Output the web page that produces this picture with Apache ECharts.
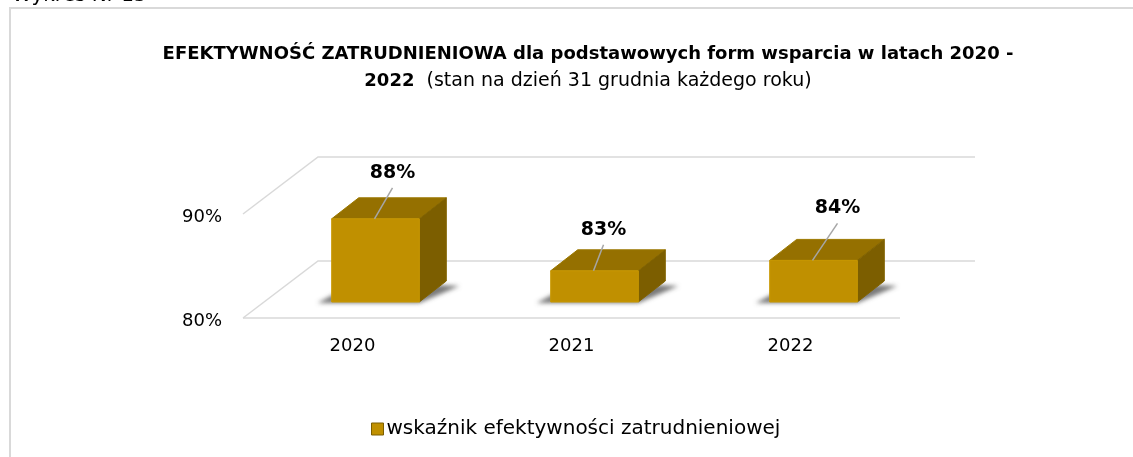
<!DOCTYPE html>
<html>
<head>
<meta charset="utf-8">
<script src="https://cdn.jsdelivr.net/npm/echarts@6/dist/echarts.min.js"></script>
<style>
html,body{margin:0;padding:0;background:#fff;}
#chart{width:1133px;height:457px;}
</style>
</head>
<body>
<div id="chart"></div>
<script>
// ---- data ----
const categories = ['2020', '2021', '2022'];
const values = [88, 83, 84];
const valueLabels = ['88%', '83%', '84%'];
const yTicks = [80, 90];
const seriesName = 'wskaźnik efektywności zatrudnieniowej';
const titleLine1 = 'EFEKTYWNOŚĆ ZATRUDNIENIOWA dla podstawowych form wsparcia w latach 2020 -';
const titleLine2Bold = '2022';
const titleLine2Rest = '  (stan na dzień 31 grudnia każdego roku)';
const caption = 'Wykres Nr 15';

// ---- layout / style constants ----
const FONT = '"DejaVu Sans", sans-serif';
const DEPTH = [75, -57];          // wall depth vector
const BAR_OFF = [23, -16];        // front face offset into depth
const BAR_DEPTH = [27, -21];      // bar depth vector
const BAR_W = 0.40;               // fraction of category band
const LABEL_OFF = [[17, -46], [9, -41], [24, -52]];
const GRID_COLOR = '#d9d9d9';

const yMin = yTicks[0], yMax = yTicks[yTicks.length - 1];

const chart = echarts.init(document.getElementById('chart'), null, {renderer: 'canvas'});

function gridRender(params, api) {
  const cs = params.coordSys;
  const v = api.value(1);
  const y = api.coord([0, v])[1];
  const left = cs.x, right = cs.x + cs.width;
  const children = [{
    type: 'polyline',
    shape: {points: [[left, y], [left + DEPTH[0], y + DEPTH[1]], [right + DEPTH[0], y + DEPTH[1]]]},
    style: {stroke: GRID_COLOR, lineWidth: 1.5, fill: null}
  }];
  if (v === yMin) {
    children.push({
      type: 'line',
      shape: {x1: left, y1: y, x2: right, y2: y},
      style: {stroke: GRID_COLOR, lineWidth: 1.5}
    });
  }
  return {type: 'group', children};
}

function barRender(params, api) {
  const i = api.value(0);
  const v = api.value(1);
  const base = api.coord([i, yMin]);
  const top = api.coord([i, v]);
  const bw = api.size([1, 0])[0] * BAR_W;
  const x0 = base[0] + BAR_OFF[0] - bw / 2, x1 = x0 + bw;
  const yb = base[1] + BAR_OFF[1], yt = top[1] + BAR_OFF[1];
  const dx = BAR_DEPTH[0], dy = BAR_DEPTH[1];
  const far = 3000;
  const lo = LABEL_OFF[params.dataIndex];
  const cx = (x0 + x1) / 2;
  return {
    type: 'group',
    children: [
      { // soft floor shadow
        type: 'polygon',
        shape: {points: [[x0 - 14 - far, yb + 1], [x1 - far, yb + 1], [x1 + dx + 13 - far, yb + dy + 5], [x0 + dx - far, yb + dy]]},
        style: {fill: 'rgba(0,0,0,0.8)', shadowBlur: 4, shadowColor: 'rgba(60,60,60,0.85)', shadowOffsetX: far}
      },
      { // top face
        type: 'polygon',
        shape: {points: [[x0, yt], [x1, yt], [x1 + dx, yt + dy], [x0 + dx, yt + dy]]},
        style: {fill: '#957000', stroke: '#9c7800', lineWidth: 1}
      },
      { // side face
        type: 'polygon',
        shape: {points: [[x1, yt], [x1 + dx, yt + dy], [x1 + dx, yb + dy], [x1, yb]]},
        style: {fill: '#7c5e00', stroke: '#826300', lineWidth: 1}
      },
      { // front face
        type: 'rect',
        shape: {x: x0, y: yt, width: bw, height: yb - yt},
        style: {fill: '#c09000', stroke: '#c89800', lineWidth: 1}
      },
      { // leader line
        type: 'line',
        shape: {x1: cx + lo[0], y1: yt + lo[1] + 15, x2: cx - 1, y2: yt + 0},
        style: {stroke: '#a6a6a6', lineWidth: 1.5}
      },
      { // value label
        type: 'text',
        style: {
          x: cx + lo[0], y: yt + lo[1],
          text: valueLabels[params.dataIndex],
          fill: '#000', font: 'bold 19px ' + FONT,
          textAlign: 'center', textVerticalAlign: 'middle'
        }
      }
    ]
  };
}

const option = {
  animation: false,
  backgroundColor: '#fff',
  title: {
    left: 583, top: 36, textAlign: 'center',
    text: '{b|' + titleLine1 + '}\n{b|' + titleLine2Bold + '}{n|' + titleLine2Rest + '}',
    textStyle: {
      rich: {
        b: {fontFamily: FONT, fontWeight: 'bold', fontSize: 18, color: '#000', lineHeight: 27},
        n: {fontFamily: FONT, fontWeight: 'normal', fontSize: 19, color: '#000', lineHeight: 27}
      }
    }
  },
  legend: {
    top: 414, left: 366,
    icon: 'rect', itemWidth: 12, itemHeight: 12, itemGap: 4,
    textStyle: {fontFamily: FONT, fontSize: 20, color: '#000', padding: [0, 0, 0, -2]},
    data: [{name: seriesName, itemStyle: {color: '#c09000', borderColor: '#7c5e00', borderWidth: 1}}]
  },
  grid: {left: 243, right: 233, top: 214, bottom: 139},
  xAxis: {
    type: 'category', data: categories,
    axisLine: {show: false}, axisTick: {show: false}, splitLine: {show: false},
    axisLabel: {fontFamily: FONT, fontSize: 18, color: '#000', margin: 19}
  },
  yAxis: {
    type: 'value', min: yMin, max: yMax, interval: 10,
    axisLine: {show: false}, axisTick: {show: false}, splitLine: {show: false},
    axisLabel: {
      margin: 21,
      formatter: v => '{a|' + v + '%}',
      rich: {a: {fontFamily: FONT, fontSize: 18, color: '#000', padding: [7, 0, 0, 0]}}
    }
  },
  graphic: [
    {type: 'rect', shape: {x: 10, y: 8, width: 1300, height: 600}, style: {fill: null, stroke: GRID_COLOR, lineWidth: 2}, silent: true},
    {type: 'text', left: 12, top: -14, style: {text: caption, font: '20px ' + FONT, fill: '#000'}}
  ],
  series: [
    {
      type: 'custom', name: '__grid', renderItem: gridRender, clip: false, silent: true, z: 1,
      data: yTicks.map(t => [0, t]), encode: {x: 0, y: 1}
    },
    {
      type: 'custom', name: seriesName, renderItem: barRender, clip: false, z: 2,
      itemStyle: {color: '#c09000'},
      data: values.map((v, i) => [i, v]), encode: {x: 0, y: 1}
    }
  ]
};
chart.setOption(option);
</script>
</body>
</html>
